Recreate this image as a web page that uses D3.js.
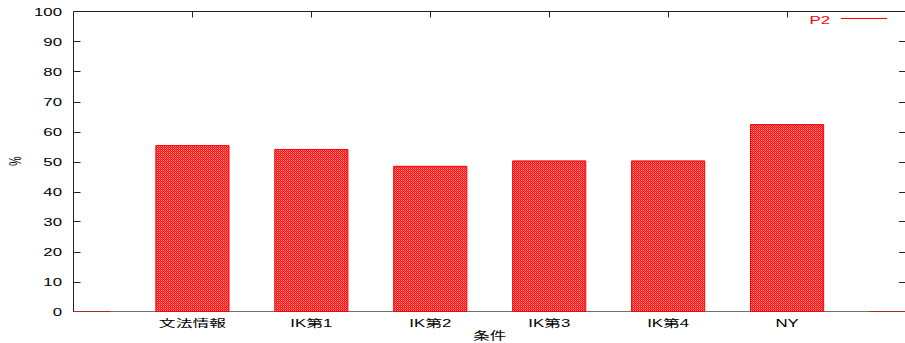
<!DOCTYPE html>
<html>
<head>
<meta charset="utf-8">
<script src="https://cdn.jsdelivr.net/npm/d3@7"></script>
<style>
  html, body { margin: 0; padding: 0; background: #fff; }
  svg { display: block; }
  text { font-family: "Liberation Sans", Arial, "Noto Sans CJK JP", sans-serif; }
</style>
</head>
<body>
<svg id="chart" width="905" height="343"></svg>
<script>
// Category slots (the empty end slots hold zero-height boxes)
const categories = ["", "文法情報", "IK第1", "IK第2", "IK第3", "IK第4", "NY", ""];
const values = [0, 55.3, 54.0, 48.4, 50.2, 50.2, 62.3, 0];
const yTicks = [0, 10, 20, 30, 40, 50, 60, 70, 80, 90, 100];
const seriesName = "P2";
const xTitle = "条件";
const yTitle = "%";

const plotL = 73.5, plotR = 906, plotT = 11.5, plotB = 311.5;
const sx = 1.6; // horizontal stretch of the text glyphs

const svg = d3.select("#chart");

const x = d3.scaleLinear().domain([0, categories.length - 1]).range([plotL, plotR]);
const y = d3.scaleLinear().domain([0, 100]).range([plotB, plotT]);
const boxW = (x(1) - x(0)) * 0.615;

// hatch fill for the boxes
const defs = svg.append("defs");
const pat = defs.append("pattern")
  .attr("id", "hatch").attr("patternUnits", "userSpaceOnUse")
  .attr("width", 2).attr("height", 2);
pat.append("rect").attr("width", 2).attr("height", 2).attr("fill", "#ff1010");
pat.append("rect").attr("x", 1).attr("y", 0).attr("width", 1).attr("height", 1).attr("fill", "#ff8a8a");
pat.append("rect").attr("x", 0).attr("y", 1).attr("width", 1).attr("height", 1).attr("fill", "#ff5050");

defs.append("clipPath").attr("id", "plotclip")
  .append("rect").attr("x", plotL).attr("y", plotT - 1).attr("width", plotR - plotL).attr("height", plotB - plotT + 2);

// bottom border line (grey)
svg.append("line").attr("x1", plotL).attr("x2", plotR).attr("y1", plotB).attr("y2", plotB)
  .attr("stroke", "#707070").attr("stroke-width", 1);

// boxes as closed paths so zero-height ones still show their outline
svg.append("g").attr("clip-path", "url(#plotclip)")
  .selectAll("path").data(values).join("path")
  .attr("d", (d, i) => {
    const x0 = x(i) - boxW / 2, x1 = x(i) + boxW / 2;
    return `M${x0},${y(0)}V${y(d)}H${x1}V${y(0)}Z`;
  })
  .attr("fill", "url(#hatch)")
  .attr("stroke", d => d === 0 ? "#b02828" : "#ff0000")
  .attr("stroke-width", 1);

// left, top and right border
svg.append("path")
  .attr("d", `M${plotL},${plotB}V${plotT}H${plotR}V${plotB}`)
  .attr("fill", "none").attr("stroke", "#222").attr("stroke-width", 1);

// y ticks (left and mirrored right)
const tickLen = 7;
const yt = svg.append("g");
yTicks.forEach(t => {
  const yy = Math.round(y(t)) + 0.5;
  if (t !== 0 && t !== 100) {
    yt.append("line").attr("x1", plotL).attr("x2", plotL + tickLen).attr("y1", yy).attr("y2", yy).attr("stroke", "#222");
    yt.append("line").attr("x1", plotR - tickLen).attr("x2", plotR).attr("y1", yy).attr("y2", yy).attr("stroke", "#222");
  }
  yt.append("text")
    .attr("transform", `translate(62,${y(t) + 4}) scale(${sx},1)`)
    .attr("text-anchor", "end")
    .attr("font-size", 10.5).attr("fill", "#000")
    .text(t);
});

// x ticks (top mirrored) and labels
const xt = svg.append("g");
categories.forEach((c, i) => {
  if (!c) return;
  const xx = Math.round(x(i)) + 0.5;
  xt.append("line").attr("x1", xx).attr("x2", xx).attr("y1", plotT).attr("y2", plotT + 6).attr("stroke", "#222");
  xt.append("text")
    .attr("transform", `translate(${x(i)},327) scale(${sx},1)`)
    .attr("text-anchor", "middle")
    .attr("font-size", 10.5).attr("fill", "#000")
    .text(c);
});

// axis titles
svg.append("text")
  .attr("transform", `translate(${(plotL + plotR) / 2},340) scale(1.5,1)`)
  .attr("text-anchor", "middle").attr("font-size", 11).attr("fill", "#000")
  .text(xTitle);
svg.append("text")
  .attr("transform", `translate(21,161) scale(${sx},1) rotate(-90)`)
  .attr("text-anchor", "middle").attr("font-size", 10.5).attr("fill", "#000")
  .text(yTitle);

// key
svg.append("text")
  .attr("transform", `translate(830,24) scale(${sx},1)`)
  .attr("text-anchor", "end").attr("font-size", 10.5).attr("fill", "#ff0000")
  .text(seriesName);
svg.append("line").attr("x1", 841).attr("x2", 887).attr("y1", 18.5).attr("y2", 18.5)
  .attr("stroke", "#ff0000").attr("stroke-width", 1);
</script>
</body>
</html>
